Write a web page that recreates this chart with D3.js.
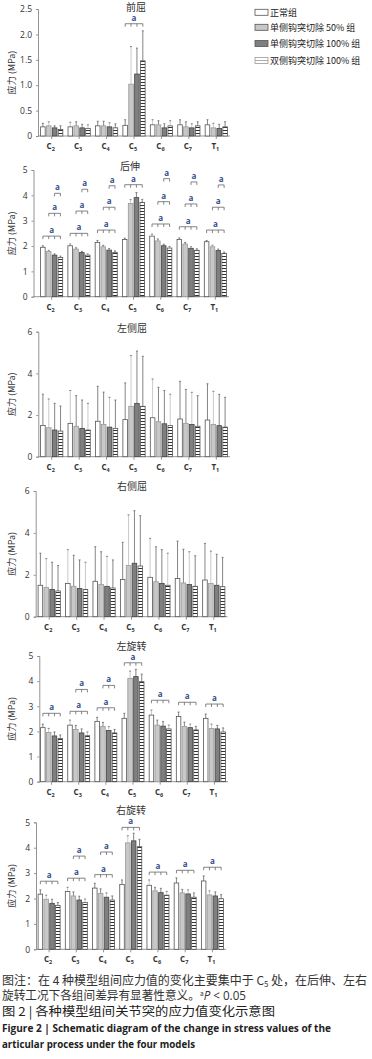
<!DOCTYPE html>
<html>
<head>
<meta charset="utf-8">
<script src="https://cdn.jsdelivr.net/npm/d3@7"></script>
<style>
    body { margin: 0; background: #fff; }
    svg { display: block; font-family: "Noto Sans CJK SC", "Noto Sans", sans-serif; }
</style>
</head>
<body>
<div id="chart"></div>
<script>
// segments on the x axis and the four model groups
const segments = ["C2", "C3", "C4", "C5", "C6", "C7", "T1"];
const groupNames = ["正常组", "单侧钩突切除 50% 组", "单侧钩突切除 100% 组", "双侧钩突切除 100% 组"];

// 前屈 (flexion)
const flexionMean = [[0.18, 0.20, 0.16, 0.13], [0.18, 0.20, 0.16, 0.15], [0.20, 0.20, 0.18, 0.16], [0.21, 1.02, 1.22, 1.48],
                     [0.22, 0.22, 0.16, 0.20], [0.22, 0.18, 0.16, 0.20], [0.22, 0.16, 0.15, 0.18]];
const flexionErr = [[0.07, 0.08, 0.04, 0.07], [0.09, 0.08, 0.07, 0.07], [0.09, 0.09, 0.08, 0.08], [0.11, 0.74, 0.51, 0.59],
                    [0.10, 0.08, 0.08, 0.10], [0.10, 0.10, 0.08, 0.08], [0.10, 0.09, 0.08, 0.10]];
const flexionSig = [["C5", 0, 2.21]];

// 后伸 (extension)
const extensionMean = [[1.95, 1.78, 1.64, 1.55], [2.01, 1.88, 1.74, 1.64], [2.14, 1.97, 1.84, 1.75], [2.26, 3.68, 3.91, 3.72],
                       [2.39, 2.20, 2.01, 1.92], [2.26, 2.08, 1.91, 1.83], [2.17, 1.97, 1.82, 1.71]];
const extensionErr = [[0.06, 0.05, 0.05, 0.05], [0.07, 0.05, 0.05, 0.05], [0.08, 0.06, 0.06, 0.06], [0.05, 0.15, 0.20, 0.12],
                      [0.08, 0.08, 0.06, 0.06], [0.06, 0.06, 0.06, 0.06], [0.05, 0.06, 0.06, 0.05]];
const extensionSig = [["C2", 0, 2.39], ["C2", 1, 3.29], ["C2", 2, 4.08],
                      ["C3", 0, 2.50], ["C3", 1, 3.38], ["C3", 2, 4.24],
                      ["C4", 0, 2.63], ["C4", 1, 3.53], ["C4", 2, 4.38],
                      ["C5", 0, 4.42],
                      ["C6", 0, 2.87], ["C6", 1, 3.75], ["C6", 2, 4.66],
                      ["C7", 0, 2.76], ["C7", 1, 3.66], ["C7", 2, 4.53],
                      ["T1", 0, 2.63], ["T1", 1, 3.53], ["T1", 2, 4.41]];

// 左侧屈 (left lateral bending)
const leftBendMean = [[1.50, 1.39, 1.28, 1.23], [1.60, 1.46, 1.36, 1.28], [1.70, 1.55, 1.42, 1.36], [1.78, 2.42, 2.56, 2.42],
                      [1.87, 1.68, 1.58, 1.50], [1.81, 1.60, 1.55, 1.46], [1.76, 1.55, 1.49, 1.42]];
const leftBendErr = [[1.50, 1.38, 1.28, 1.20], [1.58, 1.47, 1.36, 1.28], [1.68, 1.55, 1.43, 1.36], [1.76, 2.43, 2.51, 2.40],
                     [1.86, 1.65, 1.60, 1.50], [1.81, 1.63, 1.54, 1.47], [1.74, 1.59, 1.50, 1.43]];

// 右侧屈 (right lateral bending)
const rightBendMean = [[1.50, 1.40, 1.30, 1.23], [1.58, 1.45, 1.35, 1.30], [1.69, 1.54, 1.45, 1.37], [1.78, 2.44, 2.55, 2.42],
                       [1.88, 1.67, 1.59, 1.50], [1.82, 1.61, 1.54, 1.45], [1.75, 1.58, 1.50, 1.43]];
const rightBendErr = [[1.53, 1.37, 1.30, 1.21], [1.62, 1.48, 1.36, 1.30], [1.65, 1.56, 1.43, 1.34], [1.77, 2.42, 2.51, 2.40],
                      [1.86, 1.67, 1.61, 1.53], [1.79, 1.61, 1.56, 1.46], [1.75, 1.55, 1.48, 1.40]];

// 左旋转 (left rotation)
const leftRotMean = [[2.15, 1.96, 1.82, 1.72], [2.25, 2.08, 1.94, 1.83], [2.40, 2.20, 2.04, 1.94], [2.52, 4.11, 4.18, 3.98],
                     [2.65, 2.25, 2.21, 2.10], [2.59, 2.20, 2.15, 2.06], [2.52, 2.12, 2.10, 1.98]];
const leftRotErr = [[0.14, 0.16, 0.16, 0.14], [0.20, 0.16, 0.16, 0.15], [0.16, 0.16, 0.15, 0.14], [0.20, 0.29, 0.29, 0.30],
                    [0.20, 0.20, 0.18, 0.15], [0.18, 0.17, 0.14, 0.14], [0.17, 0.17, 0.14, 0.16]];
const leftRotSig = [["C2", 0, 2.72], ["C3", 0, 2.80], ["C3", 1, 3.67], ["C4", 0, 2.94], ["C4", 1, 3.83],
                    ["C5", 0, 4.73], ["C6", 0, 3.24], ["C7", 0, 3.16], ["T1", 0, 3.09]];

// 右旋转 (right rotation)
const rightRotMean = [[2.17, 1.97, 1.81, 1.73], [2.28, 2.10, 1.94, 1.84], [2.41, 2.20, 2.05, 1.94], [2.55, 4.19, 4.27, 4.04],
                      [2.52, 2.30, 2.23, 2.13], [2.61, 2.22, 2.18, 2.05], [2.69, 2.14, 2.10, 1.99]];
const rightRotErr = [[0.17, 0.16, 0.16, 0.11], [0.16, 0.16, 0.15, 0.14], [0.19, 0.18, 0.17, 0.16], [0.18, 0.28, 0.30, 0.29],
                     [0.21, 0.14, 0.17, 0.15], [0.20, 0.14, 0.16, 0.17], [0.20, 0.16, 0.16, 0.16]];
const rightRotSig = [["C2", 0, 2.68], ["C3", 0, 2.80], ["C3", 1, 3.67], ["C4", 0, 2.94], ["C4", 1, 3.83],
                     ["C5", 0, 4.80], ["C6", 0, 3.04], ["C7", 0, 3.11], ["T1", 0, 3.23]];

const tickFlex = [0, 0.5, 1, 1.5, 2, 2.5];
const tickFive = [0, 1, 2, 3, 4, 5];
const tickSix = [0, 2, 4, 6];


const svg = d3.select("#chart").append("svg")
    .attr("width", 372)
    .attr("height", 1059);

// bar fills
const defs = svg.append("defs");
const stripe = defs.append("pattern")
    .attr("id", "stripe")
    .attr("patternUnits", "userSpaceOnUse")
    .attr("width", 6)
    .attr("height", 3);
stripe.append("rect").attr("width", 6).attr("height", 3).attr("fill", "#fff");
stripe.append("rect").attr("y", 1).attr("width", 6).attr("height", 1).attr("fill", "#333");

const fills = ["#ffffff", "#c8c8c8", "#7f7f7f", "url(#stripe)"];
const strokes = ["#555", "#999", "#444", "#555"];


class StressPanel {

    constructor(svg, config) {
        this.svg = svg;
        this.config = config;
        this.initVis();
    }

    initVis() {
        let vis = this;
        let c = vis.config;

        vis.g = vis.svg.append("g");

        vis.x0 = d3.scaleBand()
            .domain(segments)
            .range([c.left, c.right]);
        vis.x1 = d3.scaleBand()
            .domain(d3.range(groupNames.length))
            .range([2.6, vis.x0.bandwidth() - 2.6])
            .paddingInner(0.22);
        vis.y = d3.scaleLinear()
            .domain([0, c.max])
            .range([c.bottom, c.top]);

        // y axis
        vis.yAxis = d3.axisLeft(vis.y)
            .tickValues(c.ticks)
            .tickSize(2)
            .tickPadding(4)
            .tickFormat(c.fmt);
        vis.g.append("g")
            .attr("class", "y-axis")
            .attr("transform", "translate(" + c.axisX + ",0)")
            .call(vis.yAxis);

        // x axis line + ticks
        vis.g.append("line")
            .attr("x1", c.axisX).attr("x2", c.right)
            .attr("y1", c.bottom).attr("y2", c.bottom)
            .attr("stroke", "#888").attr("stroke-width", 0.9);
        vis.g.selectAll(".xtick")
            .data(segments)
            .enter().append("line")
            .attr("x1", d => vis.x0(d) + vis.x0.bandwidth() / 2)
            .attr("x2", d => vis.x0(d) + vis.x0.bandwidth() / 2)
            .attr("y1", c.bottom).attr("y2", c.bottom + 3)
            .attr("stroke", "#888").attr("stroke-width", 0.9);

        let labels = vis.g.selectAll(".xlab")
            .data(segments)
            .enter().append("text")
            .attr("x", d => vis.x0(d) + vis.x0.bandwidth() / 2 - 1)
            .attr("y", c.bottom + 13)
            .attr("text-anchor", "middle")
            .attr("font-family", "'Open Sans', sans-serif")
            .attr("font-weight", "bold")
            .attr("font-size", 8)
            .attr("fill", "#333");
        labels.append("tspan").text(d => d[0]);
        labels.append("tspan").attr("dy", 2).attr("font-size", 5.5).text(d => d.slice(1));

        // y label
        vis.g.append("text")
            .attr("transform", "translate(" + 15 + "," + ((c.top + c.bottom) / 2) + ") rotate(-90)")
            .attr("text-anchor", "middle")
            .attr("font-size", 9)
            .attr("fill", "#333")
            .text("应力 (MPa)");

        // title
        vis.g.append("text")
            .attr("x", c.titleX)
            .attr("y", c.titleY)
            .attr("text-anchor", "middle")
            .attr("font-size", 10)
            .attr("fill", "#333")
            .text(c.title);

        vis.updateVis();
    }

    updateVis() {
        let vis = this;
        let c = vis.config;

        let rows = [];
        segments.forEach((s, i) => {
            c.mean[i].forEach((v, j) => rows.push({seg: s, k: j, v: v, e: c.err[i][j]}));
        });

        let barX = d => vis.x0(d.seg) + vis.x1(d.k);
        let bw = vis.x1.bandwidth();

        // error bars
        vis.g.selectAll("line.err")
            .data(rows)
            .enter().append("line")
            .attr("class", "err")
            .attr("x1", d => barX(d) + bw / 2)
            .attr("x2", d => barX(d) + bw / 2)
            .attr("y1", d => vis.y(d.v))
            .attr("y2", d => vis.y(d.v + d.e))
            .attr("stroke", (d, i) => i % 3 === 1 ? "#bbb" : "#666")
            .attr("stroke-width", 0.8);
        vis.g.selectAll("line.cap")
            .data(rows)
            .enter().append("line")
            .attr("class", "cap")
            .attr("x1", d => barX(d) + bw / 2 - 1)
            .attr("x2", d => barX(d) + bw / 2 + 1)
            .attr("y1", d => vis.y(d.v + d.e))
            .attr("y2", d => vis.y(d.v + d.e))
            .attr("stroke", "#666")
            .attr("stroke-width", 0.8);

        // bars
        vis.g.selectAll("rect.bar")
            .data(rows)
            .enter().append("rect")
            .attr("class", "bar")
            .attr("x", d => barX(d))
            .attr("y", d => vis.y(d.v))
            .attr("width", bw)
            .attr("height", d => c.bottom - vis.y(d.v))
            .attr("fill", d => fills[d.k])
            .attr("stroke", d => strokes[d.k])
            .attr("stroke-width", 0.8);

        // significance brackets
        let cx = (s, k) => vis.x0(s) + vis.x1(k) + bw / 2;
        let last = groupNames.length - 1;
        vis.g.selectAll("path.sig")
            .data(c.sig)
            .enter().append("path")
            .attr("class", "sig")
            .attr("d", d => {
                let y = vis.y(d[2]);
                let p = "M" + cx(d[0], d[1]) + "," + (y + 3) + "V" + y + "H" + cx(d[0], last) + "V" + (y + 3);
                for (let k = d[1] + 1; k < last; k++) p += "M" + cx(d[0], k) + "," + y + "V" + (y + 3);
                return p;
            })
            .attr("fill", "none")
            .attr("stroke", "#666")
            .attr("stroke-width", 0.8);
        vis.g.selectAll("text.sig")
            .data(c.sig)
            .enter().append("text")
            .attr("class", "sig")
            .attr("x", d => (cx(d[0], d[1]) + cx(d[0], last)) / 2)
            .attr("y", d => vis.y(d[2]) - 3)
            .attr("text-anchor", "middle")
            .attr("font-family", "'Open Sans', sans-serif")
            .attr("font-weight", "bold")
            .attr("font-size", 8)
            .attr("fill", "#34508c")
            .text("a");

        // axis styling
        vis.g.selectAll(".y-axis path, .y-axis line").attr("stroke", "#888").attr("stroke-width", 0.9);
        vis.g.selectAll(".y-axis text")
            .attr("font-family", "'Open Sans', sans-serif")
            .attr("font-size", 8.5)
            .attr("fill", "#333");
    }
}

const fmtFlex = d => d === 0 ? "0" : d.toFixed(1);
const fmtInt = d => d;

const panels = [
    {title: "前屈", mean: flexionMean, err: flexionErr, sig: flexionSig, max: 2.5, ticks: tickFlex, fmt: fmtFlex,
        axisX: 38, left: 38, right: 230, top: 9, bottom: 136, titleX: 136, titleY: 11},
    {title: "后伸", mean: extensionMean, err: extensionErr, sig: extensionSig, max: 5, ticks: tickFive, fmt: fmtInt,
        axisX: 33.5, left: 38, right: 229, top: 170, bottom: 296.7, titleX: 130, titleY: 170},
    {title: "左侧屈", mean: leftBendMean, err: leftBendErr, sig: [], max: 6, ticks: tickSix, fmt: fmtInt,
        axisX: 38.3, left: 38, right: 230, top: 331.7, bottom: 456.7, titleX: 132, titleY: 332},
    {title: "右侧屈", mean: rightBendMean, err: rightBendErr, sig: [], max: 6, ticks: tickSix, fmt: fmtInt,
        axisX: 35.7, left: 35.5, right: 227.5, top: 491, bottom: 616.7, titleX: 132, titleY: 490},
    {title: "左旋转", mean: leftRotMean, err: leftRotErr, sig: leftRotSig, max: 5, ticks: tickFive, fmt: fmtInt,
        axisX: 39.3, left: 38, right: 228, top: 656, bottom: 781.7, titleX: 131.5, titleY: 649.5},
    {title: "右旋转", mean: rightRotMean, err: rightRotErr, sig: rightRotSig, max: 5, ticks: tickFive, fmt: fmtInt,
        axisX: 36, left: 35.5, right: 226, top: 822.3, bottom: 949.3, titleX: 131, titleY: 814}
];

panels.forEach(p => new StressPanel(svg, p));

// legend
const legend = svg.append("g").attr("class", "legend");
const legendY = [12.3, 27.3, 43.5, 60.5];
groupNames.forEach((name, i) => {
    legend.append("rect")
        .attr("x", 255).attr("y", legendY[i] - 3)
        .attr("width", 13).attr("height", 6)
        .attr("fill", i === 3 ? "#fff" : fills[i])
        .attr("stroke", i === 3 ? "#999" : "#555")
        .attr("stroke-width", 0.8);
    if (i === 3) {
        legend.append("line")
            .attr("x1", 255).attr("x2", 268)
            .attr("y1", legendY[i]).attr("y2", legendY[i])
            .attr("stroke", "#999").attr("stroke-width", 0.8);
    }
    legend.append("text")
        .attr("x", 270).attr("y", legendY[i] + 3.3)
        .attr("font-size", 9)
        .attr("fill", "#222")
        .text(name);
});

// caption
const cap = svg.append("g").attr("fill", "#333");
let l1 = cap.append("text").attr("x", 2).attr("y", 985).attr("font-size", 12.3)
    .attr("textLength", 365).attr("lengthAdjust", "spacingAndGlyphs");
l1.append("tspan").text("图注：在 4 种模型组间应力值的变化主要集中于 C");
l1.append("tspan").attr("dy", 2).attr("font-size", 8).text("5");
l1.append("tspan").attr("dy", -2).text(" 处，在后伸、左右");

let l2 = cap.append("text").attr("x", 2).attr("y", 1000).attr("font-size", 12.3)
    .attr("textLength", 244).attr("lengthAdjust", "spacingAndGlyphs");
l2.append("tspan").text("旋转工况下各组间差异有显著性意义。");
l2.append("tspan").attr("dy", -4).attr("font-size", 7).text("a");
l2.append("tspan").attr("dy", 4).attr("font-style", "italic").attr("font-family", "'Open Sans', sans-serif").text("P");
l2.append("tspan").attr("font-family", "'Open Sans', sans-serif").text(" < 0.05");

cap.append("text").attr("x", 2).attr("y", 1016).attr("font-size", 12.3).attr("fill", "#222")
    .attr("textLength", 273).attr("lengthAdjust", "spacingAndGlyphs")
    .text("图 2 | 各种模型组间关节突的应力值变化示意图");

cap.append("text").attr("x", 2).attr("y", 1032).attr("font-size", 11.3)
    .attr("font-family", "'Open Sans', sans-serif").attr("font-weight", "bold").attr("fill", "#222")
    .attr("textLength", 329).attr("lengthAdjust", "spacingAndGlyphs")
    .text("Figure 2  |  Schematic diagram of the change in stress values of the");
cap.append("text").attr("x", 2).attr("y", 1048).attr("font-size", 11.3)
    .attr("font-family", "'Open Sans', sans-serif").attr("font-weight", "bold").attr("fill", "#222")
    .attr("textLength", 193).attr("lengthAdjust", "spacingAndGlyphs")
    .text("articular process under the four models");
</script>
</body>
</html>
